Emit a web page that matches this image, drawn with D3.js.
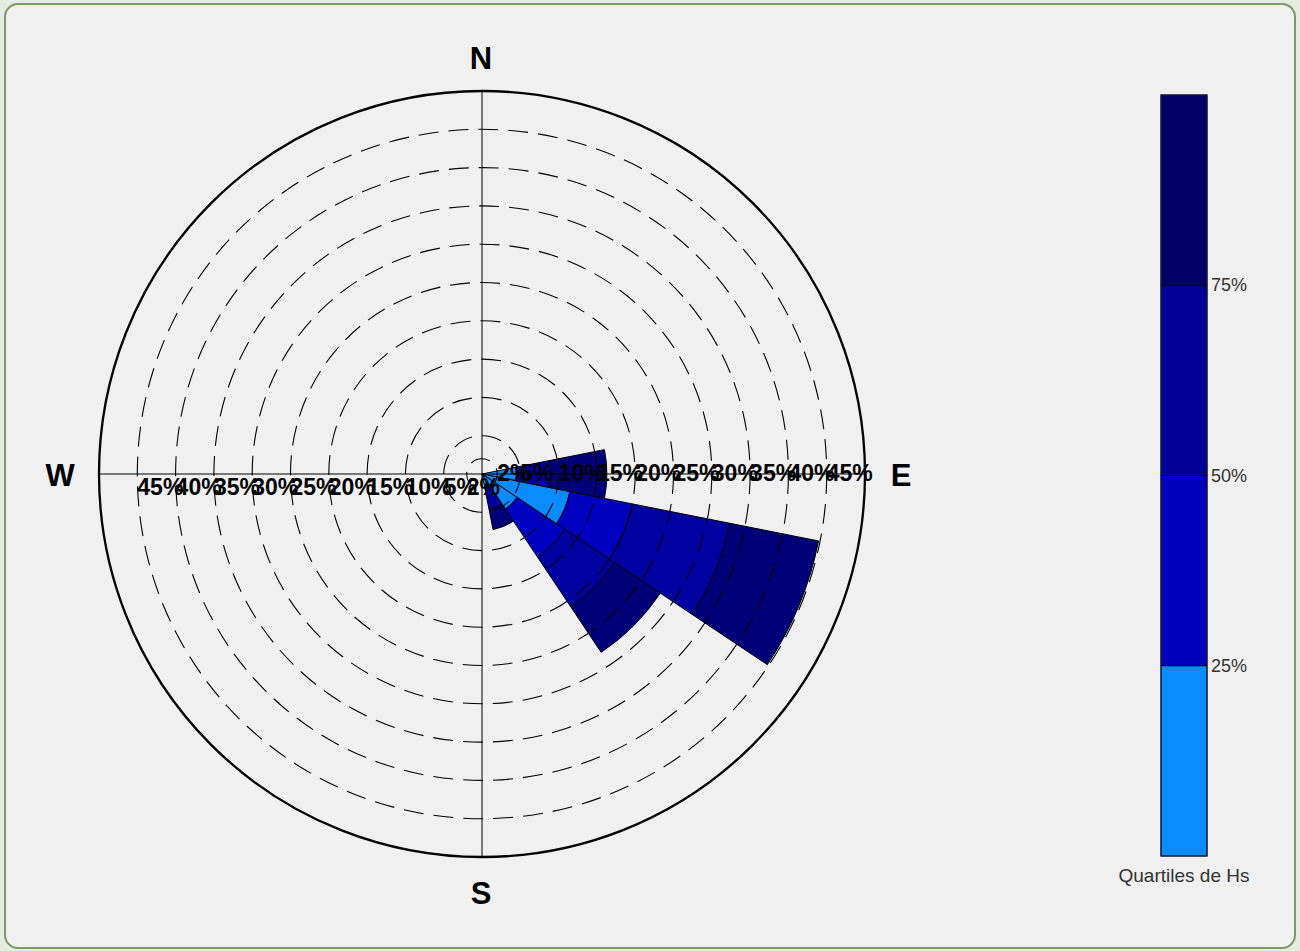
<!DOCTYPE html>
<html><head><meta charset="utf-8">
<script src="https://cdn.jsdelivr.net/npm/d3@7"></script>
<style>
html,body{margin:0;padding:0;background:#e6ece2;}
svg{display:block;font-family:"Liberation Sans",Arial,sans-serif;}
</style></head>
<body>
<svg id="c" width="1300" height="951"></svg>
<script>
// ---- data ----
const directions = [0,22.5,45,67.5,90,112.5,135,157.5,180,202.5,225,247.5,270,292.5,315,337.5];
// frequency (%) per direction for each Hs quartile class
const q1 = [0,0,0,0,4.5,11.7,5.5,1.5,0,0,0,0,0,0,0,0];
const q2 = [0,0,0,0,1.0, 8.3,7.5,1.5,0,0,0,0,0,0,0,0];
const q3 = [0,0,0,0,3.5,13.0,7.8,1.7,0,0,0,0,0,0,0,0];
const q4 = [0,0,0,0,7.3,11.8,7.2,2.7,0,0,0,0,0,0,0,0];
const classNames = ["q1","q2","q3","q4"];
const classColors = ["#0a8cff","#0000c0","#0000a0","#000078"];
const barColors = ["#0a8cff","#0000b8","#000096","#000066"];
const ringTicks = [2,5,10,15,20,25,30,35,40,45];
const ringMax = 50;
const compass = [{t:"N",a:0},{t:"E",a:90},{t:"S",a:180},{t:"W",a:270}];
const cbLabels = ["25%","50%","75%"];
const cbTitle = "Quartiles de Hs";

// ---- layout ----
const svg = d3.select("#c");
svg.append("rect").attr("x",5).attr("y",4).attr("width",1290).attr("height",944)
  .attr("rx",13).attr("fill","#f0f0f0").attr("stroke","#7b9a68").attr("stroke-width",2);

const cx = 482, cy = 474, R = 383;
const r = d3.scaleLinear().domain([0, ringMax]).range([0, R]);
const g = svg.append("g").attr("transform",`translate(${cx},${cy})`);

// stacked data
const rows = directions.map((d,i)=>({dir:d,q1:q1[i],q2:q2[i],q3:q3[i],q4:q4[i]}));
const stacked = d3.stack().keys(classNames)(rows);
const half = 11.25*Math.PI/180;
const arc = d3.arc();
stacked.forEach((layer,k)=>{
  g.selectAll(null).data(layer.filter(s=>s[1]-s[0]>0)).enter().append("path")
    .attr("d",s=>arc({innerRadius:r(s[0]),outerRadius:r(s[1]),
       startAngle:s.data.dir*Math.PI/180-half,endAngle:s.data.dir*Math.PI/180+half}))
    .attr("fill",classColors[k]).attr("stroke","#000").attr("stroke-width",1);
});

// dashed rings
g.selectAll(null).data(ringTicks).enter().append("circle")
  .attr("r",d=>r(d)).attr("fill","none").attr("stroke","#000")
  .attr("stroke-width",1.1).attr("stroke-dasharray","20,10");
// outer circle
g.append("circle").attr("r",R).attr("fill","none").attr("stroke","#000").attr("stroke-width",2.3);
// axes
g.append("line").attr("x1",0).attr("x2",0).attr("y1",-R).attr("y2",R).attr("stroke","#000");
g.append("line").attr("x1",-R).attr("x2",R).attr("y1",0).attr("y2",0).attr("stroke","#000");

// ring labels
g.selectAll(null).data(ringTicks).enter().append("text")
  .attr("x",d=>r(d)).attr("y",7).text(d=>d+"%")
  .attr("font-size",23).attr("font-weight","bold").attr("fill","#000");
g.selectAll(null).data(ringTicks).enter().append("text")
  .attr("x",d=>-r(d)).attr("y",21).text(d=>d+"%")
  .attr("font-size",23).attr("font-weight","bold").attr("fill","#000");

// compass labels
g.selectAll(null).data(compass).enter().append("text")
  .attr("x",d=>d.a===90?R+36:d.a===270?-R-39:-1)
  .attr("y",d=>d.a===0?-R-33:d.a===180?R+36:1)
  .attr("text-anchor","middle").attr("dominant-baseline","central")
  .attr("font-size",31).attr("font-weight","bold").text(d=>d.t);

// colorbar
const cbX = 1161, cbW = 46, cbTop = 95, cbBot = 856;
const cy2 = d3.scaleLinear().domain([0,4]).range([cbBot, cbTop]);
svg.selectAll(null).data(barColors).enter().append("rect")
  .attr("x",cbX).attr("width",cbW).attr("y",(c,i)=>cy2(i+1)).attr("height",(c,i)=>cy2(i)-cy2(i+1))
  .attr("fill",c=>c).attr("stroke","#000").attr("stroke-width",0.8);
svg.append("rect").attr("x",cbX).attr("y",cbTop).attr("width",cbW).attr("height",cbBot-cbTop)
  .attr("fill","none").attr("stroke","#1a1a3a").attr("stroke-width",1.2);
svg.selectAll(null).data(cbLabels).enter().append("text")
  .attr("x",cbX+cbW+4).attr("y",(d,i)=>cy2(i+1)).attr("dominant-baseline","central")
  .attr("font-size",18).attr("fill","#333").text(d=>d);
svg.append("text").attr("x",cbX+cbW/2).attr("y",882).attr("text-anchor","middle")
  .attr("font-size",19).attr("fill","#333").text(cbTitle);
</script>
</body></html>
